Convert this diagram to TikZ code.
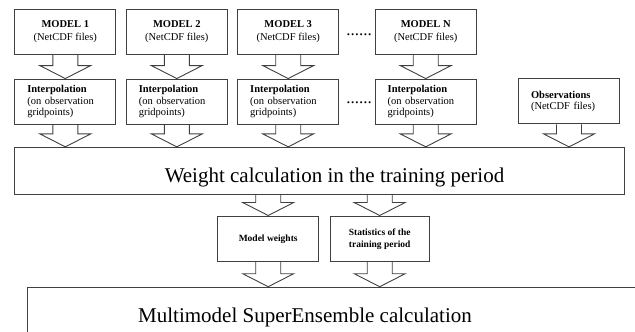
\documentclass[tikz,border=0pt]{standalone}
\usepackage{fontspec}
\setmainfont{Liberation Serif}
\usetikzlibrary{calc}

\tikzset{
  box/.style={draw=black!75, line width=0.9pt, minimum width=101pt, minimum height=45pt, inner sep=0pt},
  lbox/.style={box, align=left, text width=76pt, font=\fontsize{10.5}{11.5}\selectfont},
  mbox/.style={box, align=center, font=\fontsize{10.5}{12.5}\selectfont},
  cbox/.style={box, align=center, font=\fontsize{9.5}{12}\selectfont\bfseries},
  bigbox/.style={draw=black!75, line width=0.9pt, inner sep=0pt},
  bigtext/.style={font=\fontsize{21}{25}\selectfont, anchor=base, inner sep=0pt},
  dotrow/.style={font=\fontsize{17}{20}\selectfont, inner sep=0pt},
  blk/.style={draw=black!75, line width=0.9pt, line join=miter},
}

\newcommand\blkarrow[3]{%
  \draw[blk] let \p1=(#1), \p2=(#2.south), \p3=(#3.north) in
    (\x1-12.5pt,\y2) -- (\x1-12.5pt,\y3+13pt) -- (\x1-25.5pt,\y3+13pt) -- (\x1,\y3)
    -- (\x1+25.5pt,\y3+13pt) -- (\x1+12.5pt,\y3+13pt) -- (\x1+12.5pt,\y2);}

\begin{document}
\begin{tikzpicture}[x=1pt,y=-1pt]
\useasboundingbox (0,0) rectangle (635,332);
\clip (0,0) rectangle (635,332);

% row 1: models
\node[mbox] (m1) at (65.3,31.5) {\textbf{MODEL 1}\\(NetCDF files)};
\node[mbox] (m2) at (176.8,31.5) {\textbf{MODEL 2}\\(NetCDF files)};
\node[mbox] (m3) at (288.2,31.5) {\textbf{MODEL 3}\\(NetCDF files)};
\node[mbox] (mN) at (425.7,31.5) {\textbf{MODEL N}\\(NetCDF files)};
\node[dotrow] (d1) at (359,34.5) {......};

% row 2: interpolation
\node[lbox] (i1) at (65.3,101.5) {\textbf{Interpolation}\\(on observation\\gridpoints)};
\node[lbox] (i2) at (176.8,101.5) {\textbf{Interpolation}\\(on observation\\gridpoints)};
\node[lbox] (i3) at (288.2,101.5) {\textbf{Interpolation}\\(on observation\\gridpoints)};
\node[lbox] (iN) at (425.7,101.5) {\textbf{Interpolation}\\(on observation\\gridpoints)};
\node[dotrow] (d2) at (359,103) {......};
\node[lbox] (obs) at (569,101.3) {\textbf{Observations}\\(NetCDF files)};

% weight calculation
\node[bigbox, minimum width=609.3pt, minimum height=47.4pt] (wc) at (319.3,171) {};
\node[bigtext] (wct) at (334.5,182) {Weight calculation in the training period};

% outputs
\node[cbox, minimum height=45.7pt] (mw) at (268.2,238.8) {Model weights};
\node[cbox, minimum height=45.7pt, minimum width=99.3pt] (st) at (379.7,238.8) {Statistics of the\\training period};

% superensemble
\node[bigbox, anchor=north west, minimum width=700pt, minimum height=80pt] (ens) at (26.7,286.7) {};
\node[bigtext] (enst) at (305,322) {Multimodel SuperEnsemble calculation};

% block arrows
\blkarrow{m1}{m1}{i1}
\blkarrow{m2}{m2}{i2}
\blkarrow{m3}{m3}{i3}
\blkarrow{mN}{mN}{iN}
\blkarrow{i1}{i1}{wc}
\blkarrow{i2}{i2}{wc}
\blkarrow{i3}{i3}{wc}
\blkarrow{iN}{iN}{wc}
\blkarrow{obs}{obs}{wc}
\blkarrow{mw}{wc}{mw}
\blkarrow{st}{wc}{st}
\blkarrow{mw}{mw}{ens}
\blkarrow{st}{st}{ens}
\end{tikzpicture}
\end{document}
